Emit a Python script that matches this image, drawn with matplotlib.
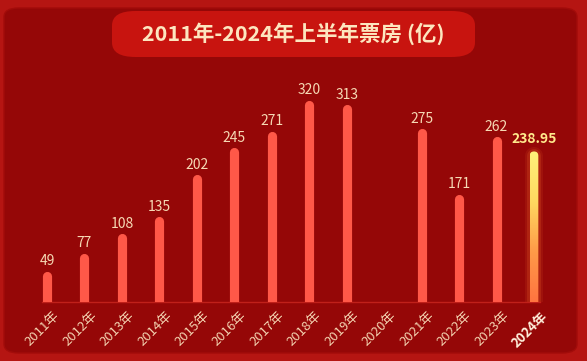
import numpy as np
import matplotlib
matplotlib.use("Agg")
import matplotlib.pyplot as plt
import matplotlib.transforms as mtransforms
from matplotlib.patches import FancyBboxPatch

plt.rcParams['font.family'] = ['Noto Sans CJK SC', 'DejaVu Sans']

years = [str(y) + "年" for y in range(2011, 2025)]
box_office = [49, 77, 108, 135, 202, 245, 271, 320, 313, 0, 275, 171, 262, 238.95]
value_labels = ["49", "77", "108", "135", "202", "245", "271", "320", "313", "",
                "275", "171", "262", "238.95"]
title = "2011年-2024年上半年票房 (亿)"

W, H = 587, 361
fig = plt.figure(figsize=(W / 100, H / 100), dpi=100)
fig.patch.set_facecolor("#b51512")

# inner dark panel
panel = FancyBboxPatch((4 / W, 8 / H), 573 / W, 345 / H,
                       boxstyle="round,pad=0,rounding_size=0.025",
                       transform=fig.transFigure, facecolor="#950707",
                       edgecolor="#a20c0a", lw=1.0, zorder=-2)
fig.patches.append(panel)

# title banner
banner = FancyBboxPatch((112 / W, 304 / H), 363 / W, 46 / H,
                        boxstyle="round,pad=0,rounding_size=0.04",
                        transform=fig.transFigure, facecolor="#c8140f",
                        edgecolor="none", zorder=-1)
fig.patches.append(banner)
fig.text(293 / W, 327 / H, title, ha="center", va="center", fontsize=15.5,
         fontweight="bold", color="#fde6bf", zorder=3)

# axes: baseline at y=302px, scale 0.63 px per unit
ax = fig.add_axes([28.25 / W, 59 / H, 524.5 / W, 250 / H])
ax.set_facecolor("none")
ax.set_xlim(-0.5, 13.5)
ax.set_ylim(0, 250 / 0.63)
for s in ax.spines.values():
    s.set_visible(False)
ax.set_yticks([])

x = np.arange(len(years))
bw_pt = 6.6
cap = 4.5 / 0.63
for i, v in enumerate(box_office):
    if v <= 0:
        continue
    if i == len(years) - 1:
        # glow
        for lw, a in [(13, 0.10), (10, 0.18)]:
            ax.plot([x[i], x[i]], [-20, v - cap], color="#ff7a30", lw=lw,
                    alpha=a, solid_capstyle="round", zorder=2)
        grad = np.linspace(0, 1, 200).reshape(-1, 1)
        cmap = matplotlib.colors.LinearSegmentedColormap.from_list(
            "g", ["#ff7440", "#ff9a48", "#ffd860", "#fff07a"])
        im = ax.imshow(grad, extent=[x[i] - 0.12, x[i] + 0.12, 0, v],
                       origin="lower", aspect="auto", cmap=cmap, zorder=3)
        clip = FancyBboxPatch((x[i] - 0.115, -20), 0.23, v + 20,
                              boxstyle="round,pad=0,rounding_size=0.115",
                              mutation_aspect=(1 / 0.63) * 37.5,
                              transform=ax.transData, facecolor="none",
                              edgecolor="none")
        ax.add_patch(clip)
        im.set_clip_path(clip)
        ax.set_xlim(-0.5, 13.5)
        ax.set_ylim(0, 250 / 0.63)
        ax.text(x[i], v + 9, value_labels[i], ha="center", va="bottom",
                fontsize=10, fontweight="bold", color="#ffe98c", zorder=4)
    else:
        ax.plot([x[i], x[i]], [-20, v - cap], lw=bw_pt, solid_capstyle="round",
                color="#ff5848", zorder=3)
        ax.text(x[i], v + 5, value_labels[i], ha="center", va="bottom",
                fontsize=10, color="#f6d9b4", zorder=4)

# baseline
ax.plot([-0.14, 13.15], [0, 0], color="#c0201a", lw=1.0, zorder=2,
        clip_on=False)

ax.set_xticks(x)
ax.set_xticklabels(years, rotation=45, ha="right", rotation_mode="anchor",
                   fontsize=9.5, color="#f3d2b0")
ax.tick_params(axis="x", length=0, pad=5)
shift = mtransforms.ScaledTranslation(6 / 100, 0, fig.dpi_scale_trans)
for lab in ax.get_xticklabels():
    lab.set_transform(lab.get_transform() + shift)
ax.get_xticklabels()[-1].set_fontweight("bold")
ax.get_xticklabels()[-1].set_color("#fff0dc")

fig.savefig("out.png", dpi=100, facecolor=fig.get_facecolor())
